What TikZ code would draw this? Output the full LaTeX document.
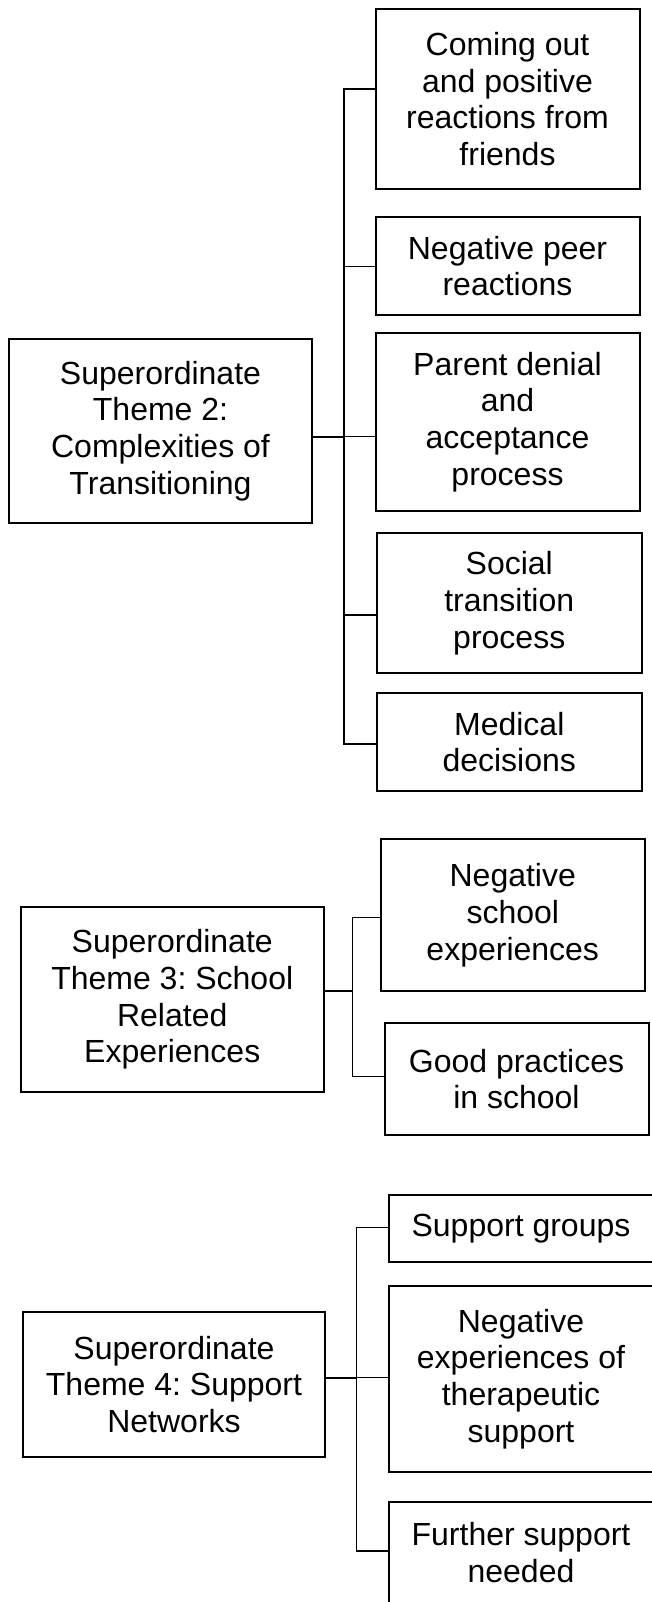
\documentclass[tikz,border=0pt]{standalone}
\usepackage{fontspec}
\setmainfont{Liberation Sans}
\frenchspacing
\begin{document}
\begin{tikzpicture}[x=1pt,y=-1pt,
  box/.style={draw, line width=2pt, inner sep=0pt, align=center,
    font=\fontsize{32}{36.8}\selectfont\frenchspacing},
  link/.style={line width=1.2pt},
  stem/.style={line width=2pt}]
\useasboundingbox (0,0) rectangle (652,1602);
\fill[white] (0,0) rectangle (652,1602);

% Group 1
\node[box, minimum width=303, minimum height=184] (T2) at (160.5,431)
  {Superordinate\\Theme 2:\\Complexities of\\Transitioning};
\node[box, minimum width=264, minimum height=180] (C1) at (507.5,99)
  {Coming out\\and positive\\reactions from\\friends};
\node[box, minimum width=264, minimum height=98] (C2) at (507.5,266)
  {Negative peer\\reactions};
\node[box, minimum width=264, minimum height=178] (C3) at (507.5,422)
  {Parent denial\\and\\acceptance\\process};
\node[box, minimum width=264.5, minimum height=140] (C4) at (509.25,603)
  {Social\\transition\\process};
\node[box, minimum width=264.5, minimum height=98] (C5) at (509.25,742)
  {Medical\\decisions};

\coordinate (j2) at (344,436.7);
\coordinate (a1) at (344,89);
\coordinate (a2) at (344,266.7);
\coordinate (a4) at (344,615);
\coordinate (a5) at (344,744);
\draw[stem] (T2.east |- j2) -- (j2);
\draw[link] (j2) -- (j2 -| C3.west);
\draw[link] (a1 -| C1.west) -- (a1) -- (a5) -- (a5 -| C5.west);
\draw[link] (a2) -- (a2 -| C2.west);
\draw[link] (a4) -- (a4 -| C4.west);

% Group 2
\node[box, minimum width=302.5, minimum height=185] (T3) at (172.25,999.5)
  {Superordinate\\Theme 3: School\\Related\\Experiences};
\node[box, minimum width=264.5, minimum height=152] (C6) at (512.75,915)
  {Negative\\school\\experiences};
\node[box, minimum width=264, minimum height=112] (C7) at (516.5,1079)
  {Good practices\\in school};

\coordinate (j3) at (352.6,991);
\coordinate (b6) at (352.6,917.3);
\coordinate (b7) at (352.6,1076.7);
\draw[stem] (T3.east |- j3) -- (j3);
\draw[link] (b6 -| C6.west) -- (b6) -- (b7) -- (b7 -| C7.west);

% Group 3
\node[box, minimum width=302, minimum height=145] (T4) at (174,1384.5)
  {Superordinate\\Theme 4: Support\\Networks};
\node[box, minimum width=265, minimum height=66.5] (C8) at (521,1228.25)
  {Support groups};
\node[box, minimum width=265, minimum height=186] (C9) at (521,1379)
  {Negative\\experiences of\\therapeutic\\support};
\node[box, minimum width=265, minimum height=102] (C10) at (521,1552.5)
  {Further support\\needed};

\coordinate (j4) at (356.8,1377.7);
\coordinate (d8) at (356.8,1227.7);
\coordinate (d10) at (356.8,1551);
\draw[stem] (T4.east |- j4) -- (j4);
\draw[link] (j4) -- (j4 -| C9.west);
\draw[link] (d8 -| C8.west) -- (d8) -- (d10) -- (d10 -| C10.west);
\end{tikzpicture}
\end{document}
